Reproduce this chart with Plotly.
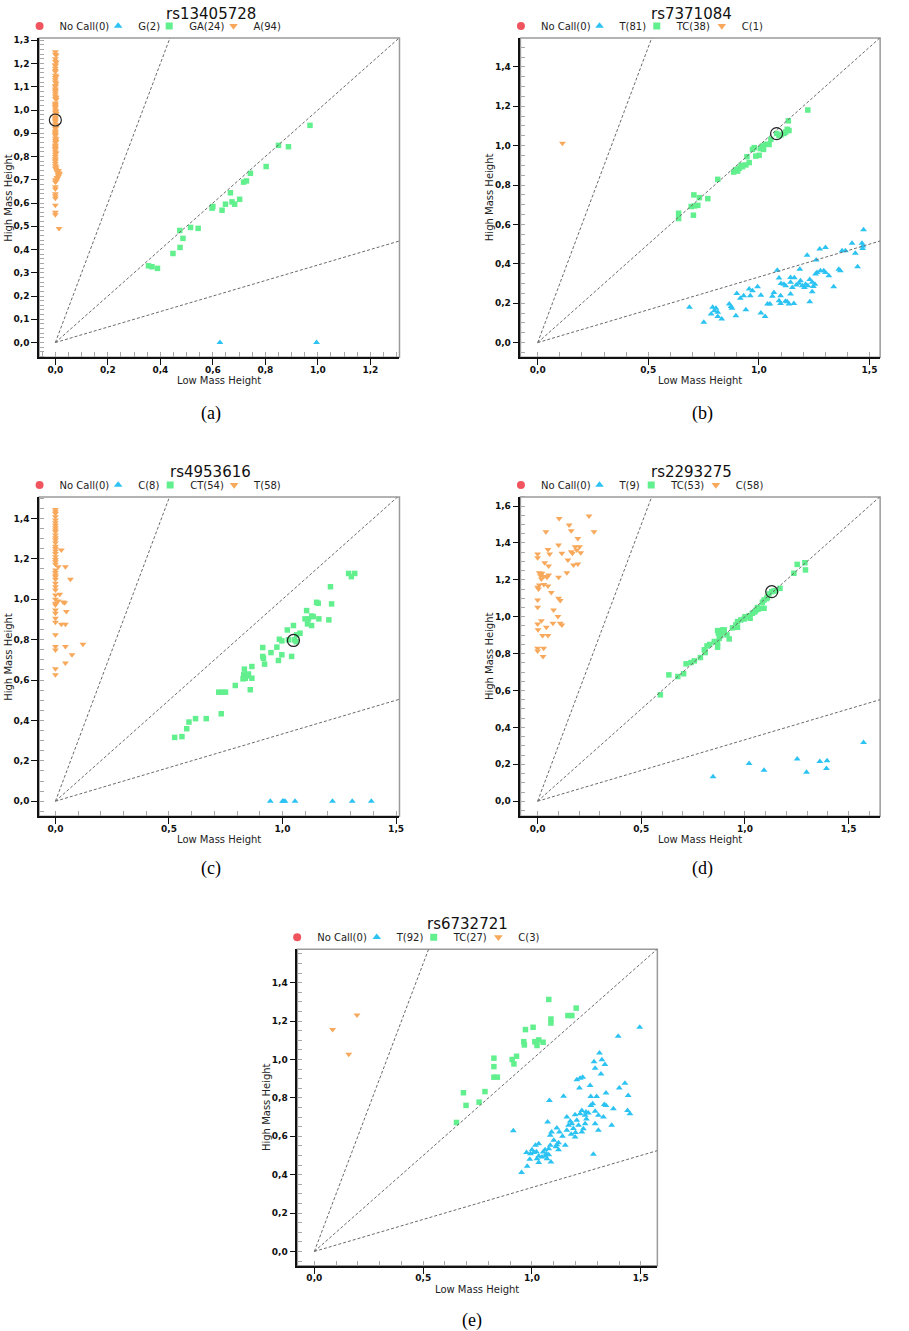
import plotly.graph_objects as go

W, H = 909, 1331

# ---------------- data ----------------
titles = ["rs13405728", "rs7371084", "rs4953616", "rs2293275", "rs6732721"]
captions = ["(a)", "(b)", "(c)", "(d)", "(e)"]
legend_names = [
    ["No Call(0)", "G(2)", "GA(24)", "A(94)"],
    ["No Call(0)", "T(81)", "TC(38)", "C(1)"],
    ["No Call(0)", "C(8)", "CT(54)", "T(58)"],
    ["No Call(0)", "T(9)", "TC(53)", "C(58)"],
    ["No Call(0)", "T(92)", "TC(27)", "C(3)"],
]
line_slopes = [3.0, 1.0, 1.0 / 3.0]

# panel (a)
a_blue_x = [0.627, 0.995]
a_blue_y = [0.0, 0.0]
a_green_x = [0.970, 0.850, 0.888, 0.803, 0.743, 0.728, 0.717, 0.667, 0.702, 0.673, 0.648, 0.683,
             0.597, 0.600, 0.635, 0.544, 0.515, 0.474, 0.486, 0.475, 0.448, 0.355, 0.368, 0.389]
a_green_y = [0.934, 0.848, 0.842, 0.757, 0.728, 0.695, 0.690, 0.644, 0.616, 0.605, 0.595, 0.595,
             0.578, 0.585, 0.569, 0.491, 0.495, 0.482, 0.448, 0.409, 0.383, 0.330, 0.326, 0.319]
a_orange_y = [1.25, 1.24, 1.22, 1.21, 1.19, 1.18, 1.17, 1.15, 1.14, 1.13, 1.12, 1.10, 1.09, 1.08, 1.07,
              1.06, 1.05, 1.03, 1.02, 1.01, 1.00, 0.99, 0.98, 0.97, 0.96, 0.95, 0.94, 0.93, 0.92, 0.91,
              0.90, 0.89, 0.88, 0.87, 0.86, 0.85, 0.84, 0.83, 0.82, 0.81, 0.80, 0.79, 0.78, 0.77, 0.76,
              0.75, 0.74, 0.73, 0.72, 0.71, 0.70, 0.69, 0.67, 0.66, 0.64, 0.63, 0.62, 0.59, 0.56, 0.55,
              0.49,
              1.235, 1.195, 1.145, 1.105, 1.045, 1.015, 0.985, 0.955, 0.925, 0.895, 0.865, 0.835, 0.815,
              0.785, 0.755, 0.725, 0.715, 0.705, 0.695, 0.735, 0.745, 0.845, 0.875, 0.905, 0.935, 0.965,
              0.995, 1.025, 1.055, 1.085, 1.115, 1.165, 1.205]
a_orange_x = [0.0, 0.0, 0.0, 0.0, 0.0, 0.0, 0.0, 0.0, 0.0, 0.0, 0.0, 0.0, 0.0, 0.0, 0.0,
              0.0, 0.0, 0.0, 0.0, 0.0, 0.0, 0.0, 0.0, 0.0, 0.0, 0.0, 0.0, 0.0, 0.0, 0.0,
              0.0, 0.0, 0.0, 0.0, 0.0, 0.0, 0.0, 0.0, 0.0, 0.0, 0.0, 0.0, 0.0, 0.0, 0.0,
              0.0, 0.012, 0.014, 0.010, 0.006, 0.0, 0.0, 0.0, 0.0, 0.0, 0.0, 0.0, 0.0, 0.0, 0.0,
              0.014,
              0.003, 0.0, 0.003, 0.0, 0.003, 0.0, 0.003, 0.0, 0.003, 0.0, 0.003, 0.0, 0.003,
              0.0, 0.003, 0.016, 0.012, 0.008, 0.004, 0.006, 0.003, 0.0, 0.003, 0.0, 0.003, 0.0,
              0.003, 0.0, 0.003, 0.0, 0.003, 0.0, 0.003]
a_sel_x = [0.0]
a_sel_y = [0.957]

# panel (b)
b_blue_x = [1.473, 1.421, 1.466, 1.469, 1.436, 1.376, 1.391, 1.446, 1.301, 1.275, 1.218, 1.259, 1.361, 1.368,
            1.185, 1.083, 1.278, 1.293, 1.263, 1.256, 1.301, 1.316, 1.091, 1.143, 1.188, 1.181, 1.113, 1.121,
            1.143, 1.151, 1.211, 1.221, 1.241, 1.253, 1.246, 1.169, 1.196, 1.206, 1.338, 0.994, 1.241, 1.143,
            0.956, 0.971, 0.961, 1.068, 1.061, 1.098, 1.091, 1.009, 0.931, 0.916, 1.230, 1.128, 1.136, 1.158,
            1.050, 1.039, 1.098, 0.866, 0.874, 0.878, 0.941, 0.791, 0.806, 0.686, 0.799, 0.814, 0.784, 1.009,
            1.028, 0.896, 0.814, 0.832, 0.751, 1.100, 1.230, 1.160, 0.900, 1.470, 1.120]
b_blue_y = [0.573, 0.505, 0.505, 0.478, 0.454, 0.466, 0.466, 0.385, 0.483, 0.475, 0.444, 0.419, 0.373, 0.365,
            0.373, 0.368, 0.365, 0.365, 0.356, 0.348, 0.356, 0.339, 0.328, 0.331, 0.314, 0.302, 0.297, 0.289,
            0.306, 0.280, 0.297, 0.289, 0.306, 0.297, 0.285, 0.292, 0.289, 0.280, 0.284, 0.284, 0.258, 0.247,
            0.272, 0.263, 0.238, 0.255, 0.235, 0.238, 0.213, 0.241, 0.238, 0.225, 0.208, 0.208, 0.196, 0.199,
            0.196, 0.196, 0.199, 0.196, 0.184, 0.174, 0.167, 0.179, 0.174, 0.179, 0.162, 0.154, 0.145, 0.150,
            0.133, 0.137, 0.133, 0.120, 0.103, 0.300, 0.320, 0.330, 0.250, 0.490, 0.210]
b_green_x = [1.221, 1.133, 1.128, 1.121, 1.113, 1.136, 1.080, 1.091, 1.054, 1.031, 1.016, 1.021, 1.006, 1.046,
             0.979, 0.971, 1.001, 0.986, 0.946, 0.941, 0.926, 0.911, 0.904, 0.886, 0.919, 0.956, 0.814, 0.769,
             0.731, 0.706, 0.724, 0.709, 0.694, 0.704, 0.637, 0.637, 0.896, 1.100]
b_green_y = [1.181, 1.126, 1.083, 1.069, 1.062, 1.077, 1.062, 1.051, 1.032, 1.007, 0.998, 0.981, 0.985, 1.006,
             0.990, 0.981, 0.951, 0.947, 0.944, 0.902, 0.893, 0.885, 0.871, 0.866, 0.900, 0.914, 0.829, 0.731,
             0.736, 0.750, 0.697, 0.694, 0.691, 0.647, 0.657, 0.630, 0.878, 1.055]
b_orange_x = [0.112]
b_orange_y = [1.012]
b_sel_x = [1.080]
b_sel_y = [1.061]

# panel (c)
c_blue_x = [0.946, 1.000, 1.004, 1.011, 1.055, 1.220, 1.307, 1.391]
c_blue_y = [0.0, 0.0, 0.0, 0.0, 0.0, 0.0, 0.0, 0.0]
c_green_x = [1.291, 1.318, 1.303, 1.211, 1.216, 1.150, 1.157, 1.106, 1.099, 1.114, 1.128, 1.135, 1.160, 1.204,
             1.110, 1.128, 1.021, 1.048, 1.077, 1.062, 0.986, 0.997, 1.026, 1.052, 0.913, 0.975, 0.949, 0.997,
             1.040, 0.913, 0.916, 0.982, 0.921, 0.865, 0.832, 0.829, 0.843, 0.836, 0.826, 0.865, 0.792, 0.858,
             0.719, 0.749, 0.730, 0.617, 0.664, 0.588, 0.578, 0.525, 0.557, 0.734, 0.850, 1.060]
c_green_y = [1.128, 1.128, 1.112, 1.062, 0.977, 0.985, 0.980, 0.944, 0.903, 0.903, 0.917, 0.914, 0.903, 0.898,
             0.878, 0.870, 0.848, 0.870, 0.832, 0.824, 0.802, 0.794, 0.799, 0.799, 0.761, 0.763, 0.736, 0.725,
             0.717, 0.717, 0.708, 0.697, 0.679, 0.667, 0.654, 0.626, 0.621, 0.609, 0.606, 0.609, 0.573, 0.552,
             0.540, 0.540, 0.433, 0.409, 0.409, 0.392, 0.359, 0.316, 0.320, 0.540, 0.630, 0.790]
c_orange_x = [0.0, 0.0, 0.0, 0.0, 0.0, 0.0, 0.0, 0.0, 0.0, 0.0, 0.0, 0.0, 0.0, 0.0, 0.0,
              0.0, 0.0, 0.0, 0.0, 0.0, 0.0, 0.0, 0.0, 0.0, 0.0, 0.0, 0.0, 0.0, 0.0, 0.0,
              0.0, 0.0, 0.0, 0.0, 0.0, 0.0, 0.0, 0.0, 0.0, 0.0, 0.0, 0.0, 0.0,
              0.026, 0.012, 0.044, 0.066, 0.019, 0.012, 0.034, 0.041, 0.048, 0.026, 0.044, 0.121, 0.044,
              0.073, 0.044]
c_orange_y = [1.445, 1.433, 1.425, 1.408, 1.392, 1.379, 1.367, 1.354, 1.343, 1.334, 1.318, 1.305, 1.293, 1.280,
              1.263, 1.252, 1.239, 1.227, 1.211, 1.197, 1.186, 1.174, 1.145, 1.132, 1.120, 1.112, 1.099, 1.079,
              1.062, 1.046, 1.021, 1.000, 0.980, 0.972, 0.947, 0.931, 0.906, 0.886, 0.824, 0.766, 0.749, 0.656,
              0.626,
              1.244, 1.161, 1.161, 1.099, 1.025, 0.992, 0.987, 0.983, 0.939, 0.876, 0.876, 0.777, 0.766,
              0.725, 0.684]
c_sel_x = [1.048]
c_sel_y = [0.796]

# panel (d)
d_blue_x = [1.572, 1.252, 1.361, 1.396, 1.393, 1.020, 1.092, 1.297, 0.846]
d_blue_y = [0.319, 0.229, 0.216, 0.220, 0.177, 0.204, 0.168, 0.157, 0.132]
d_green_x = [1.289, 1.252, 1.292, 1.236, 1.169, 1.148, 1.129, 1.108, 1.092, 1.084, 1.092, 1.076, 1.063, 1.052,
             1.036, 1.020, 1.025, 0.980, 0.964, 0.956, 0.964, 0.900, 0.888, 0.868, 0.872, 0.924, 0.884, 0.876,
             0.852, 0.868, 0.868, 0.817, 0.804, 0.808, 0.785, 0.756, 0.740, 0.716, 0.704, 0.676, 0.633, 0.592,
             0.996, 1.047, 1.105, 1.116, 0.913, 0.892, 1.000, 1.060, 0.940, 0.830, 1.140]
d_green_y = [1.293, 1.284, 1.254, 1.236, 1.154, 1.142, 1.136, 1.106, 1.091, 1.079, 1.046, 1.046, 1.041, 1.034,
             1.019, 1.006, 0.992, 0.983, 0.974, 0.956, 0.943, 0.929, 0.916, 0.925, 0.911, 0.880, 0.898, 0.884,
             0.866, 0.860, 0.835, 0.842, 0.821, 0.806, 0.779, 0.761, 0.752, 0.745, 0.691, 0.676, 0.685, 0.577,
             0.988, 1.026, 1.099, 1.124, 0.902, 0.929, 1.000, 1.050, 0.940, 0.850, 1.140]
d_orange_x = [0.248, 0.104, 0.152, 0.040, 0.162, 0.272, 0.194, 0.101, 0.050, 0.058, 0.000, 0.000, 0.181, 0.202,
              0.189, 0.117, 0.162, 0.168, 0.208, 0.146, 0.034, 0.053, 0.173, 0.194, 0.008, 0.021, 0.141, 0.053,
              0.029, 0.045, 0.018, 0.101, 0.008, 0.000, 0.050, 0.066, 0.101, 0.109, 0.000, 0.000, 0.077, 0.098,
              0.018, 0.000, 0.002, 0.109, 0.117, 0.074, 0.042, 0.024, 0.050, 0.000, 0.000, 0.029, 0.026, 0.014,
              0.030, 0.004]
d_orange_y = [1.546, 1.533, 1.497, 1.461, 1.466, 1.461, 1.425, 1.389, 1.365, 1.340, 1.340, 1.320, 1.380, 1.380,
              1.362, 1.344, 1.353, 1.344, 1.347, 1.308, 1.293, 1.275, 1.281, 1.286, 1.239, 1.236, 1.239, 1.227,
              1.218, 1.214, 1.205, 1.214, 1.172, 1.160, 1.167, 1.131, 1.100, 1.088, 1.091, 1.052, 1.037, 1.001,
              0.979, 0.961, 0.929, 0.965, 0.956, 0.965, 0.943, 0.898, 0.898, 0.830, 0.815, 0.830, 0.785, 1.222,
              1.175, 1.150]
d_sel_x = [1.129]
d_sel_y = [1.136]

# panel (e)
e_blue_x = [1.495, 1.396, 1.310, 1.321, 1.285, 1.335, 1.290, 1.317, 1.206, 1.221, 1.233, 1.427, 1.401, 1.218,
            1.267, 1.442, 1.340, 1.270, 1.297, 1.145, 1.080, 1.279, 1.332, 1.340, 1.374, 1.439, 1.450, 1.229,
            1.248, 1.259, 1.221, 1.290, 1.305, 1.328, 1.198, 1.244, 1.176, 1.183, 1.168, 1.206, 1.214, 1.244,
            1.236, 1.229, 1.072, 1.290, 1.366, 1.305, 1.114, 1.126, 1.090, 1.084, 1.160, 1.198, 0.914, 1.153,
            1.122, 1.114, 1.031, 1.016, 1.084, 1.077, 1.122, 1.000, 1.008, 0.993, 0.975, 1.051, 1.066, 1.061,
            1.046, 1.069, 1.077, 1.031, 1.023, 1.282, 0.990, 1.031, 1.087, 0.978, 0.952, 1.190, 1.250, 1.140,
            1.100, 1.200, 1.060, 1.160, 1.270, 1.020, 1.180, 1.110]
e_blue_y = [1.168, 1.121, 1.034, 0.999, 0.989, 0.974, 0.955, 0.925, 0.894, 0.903, 0.908, 0.877, 0.851, 0.851,
            0.865, 0.813, 0.825, 0.807, 0.807, 0.809, 0.787, 0.769, 0.766, 0.761, 0.743, 0.735, 0.717, 0.735,
            0.726, 0.721, 0.717, 0.731, 0.709, 0.700, 0.712, 0.709, 0.678, 0.665, 0.657, 0.683, 0.657, 0.665,
            0.639, 0.622, 0.674, 0.665, 0.657, 0.631, 0.643, 0.622, 0.622, 0.605, 0.631, 0.596, 0.629, 0.553,
            0.567, 0.556, 0.561, 0.553, 0.553, 0.535, 0.530, 0.530, 0.515, 0.509, 0.515, 0.518, 0.509, 0.497,
            0.492, 0.483, 0.504, 0.497, 0.483, 0.506, 0.480, 0.463, 0.466, 0.444, 0.411, 0.640, 0.690, 0.600,
            0.580, 0.620, 0.530, 0.700, 0.760, 0.520, 0.610, 0.545]
e_green_x = [1.077, 1.203, 1.165, 1.183, 1.087, 1.087, 1.005, 0.970, 0.962, 0.965, 1.013, 1.023, 1.020, 1.031,
             1.051, 0.929, 0.909, 0.917, 0.825, 0.825, 0.825, 0.841, 0.784, 0.685, 0.757, 0.697, 0.653]
e_green_y = [1.313, 1.268, 1.229, 1.229, 1.211, 1.190, 1.168, 1.156, 1.093, 1.076, 1.093, 1.073, 1.090, 1.102,
             1.090, 1.017, 1.000, 0.977, 1.007, 0.963, 0.908, 0.908, 0.833, 0.827, 0.778, 0.761, 0.672]
e_orange_x = [0.084, 0.196, 0.158]
e_orange_y = [1.156, 1.232, 1.028]
e_sel_x = []
e_sel_y = []

# axis ranges and ticks per panel
x_ranges = [[-0.062, 1.311], [-0.078, 1.548], [-0.072, 1.515], [-0.083, 1.652], [-0.078, 1.576]]
y_ranges = [[-0.063, 1.310], [-0.074, 1.547], [-0.074, 1.507], [-0.081, 1.650], [-0.075, 1.575]]
x_dticks = [0.2, 0.5, 0.5, 0.5, 0.5]
x_minor = [0.05, 0.1, 0.1, 0.1, 0.1]
y_dticks = [0.1, 0.2, 0.2, 0.2, 0.2]
y_minor = [0.02, 0.05, 0.05, 0.05, 0.05]

# ---------------- layout geometry (page pixels) ----------------
boxes = [  # left, right, top, bottom
    (39.3, 401.7, 35.0, 355.0),
    (523.3, 885.0, 35.0, 355.0),
    (39.3, 401.7, 495.0, 815.0),
    (523.3, 885.0, 495.0, 815.0),
    (299.0, 661.0, 948.3, 1265.7),
]
title_pos = [(211.7, 11), (695.7, 11), (211.7, 470), (695.7, 470), (470, 923.5)]
caption_pos = [(212, 411), (706, 411), (212, 867), (706, 867), (475, 1320)]
# start of each legend entry's text, relative to the plot box's left edge
legend_text_offsets = [
    [18.4, 97.4, 148.7, 213.4],
    [18.4, 97.4, 155.0, 220.4],
    [18.4, 97.4, 149.7, 214.0],
    [18.4, 97.4, 149.4, 214.4],
    [17.7, 97.7, 155.0, 220.0],
]

panels = [
    (a_blue_x, a_blue_y, a_green_x, a_green_y, a_orange_x, a_orange_y, a_sel_x, a_sel_y),
    (b_blue_x, b_blue_y, b_green_x, b_green_y, b_orange_x, b_orange_y, b_sel_x, b_sel_y),
    (c_blue_x, c_blue_y, c_green_x, c_green_y, c_orange_x, c_orange_y, c_sel_x, c_sel_y),
    (d_blue_x, d_blue_y, d_green_x, d_green_y, d_orange_x, d_orange_y, d_sel_x, d_sel_y),
    (e_blue_x, e_blue_y, e_green_x, e_green_y, e_orange_x, e_orange_y, e_sel_x, e_sel_y),
]

RED, BLUE, GREEN, ORANGE = "#F0555F", "#2CC3F3", "#62EF8E", "#F8A85A"
FONT = "DejaVu Sans"
# (symbol, data marker size, legend marker size, colour) per genotype group
groups = [
    ("circle", 6, 8, RED),
    ("triangle-up", 6, 7.5, BLUE),
    ("square", 5.5, 7, GREEN),
    ("triangle-down", 6, 7.5, ORANGE),
]


def px_x(v):
    return v / W


def px_y(v):
    return 1 - v / H


fig = go.Figure()
layout = dict(
    width=W, height=H, margin=dict(l=0, r=0, t=0, b=0),
    paper_bgcolor="white", plot_bgcolor="white",
    separators=",.", showlegend=True,
    font=dict(family=FONT, size=10, color="#222"),
)
annotations = []
shapes = []

for i, (bx, by, gx, gy, ox, oy, sx, sy) in enumerate(panels):
    k = i + 1
    xa = "x" if k == 1 else f"x{k}"
    ya = "y" if k == 1 else f"y{k}"
    names = legend_names[i]
    L, R, T, B = boxes[i]
    series = [([None], [None]), (bx, by), (gx, gy), (ox, oy)]
    for j in range(4):
        n = i * 4 + j + 1
        leg = "legend" if n == 1 else f"legend{n}"
        layout[leg] = dict(
            x=px_x(L + legend_text_offsets[i][j] + 2 - 40), y=px_y(T - 12), xanchor="left",
            yanchor="middle", orientation="h",
            font=dict(family=FONT, size=10, color="#222"), bgcolor="rgba(0,0,0,0)",
            itemwidth=30, tracegroupgap=0, borderwidth=0,
        )
        sym, msize, lsize, col = groups[j]
        grp = f"p{k}g{j}"
        # legend entry (slightly larger symbol than the data marks)
        fig.add_trace(go.Scatter(x=[None], y=[None], mode="markers", name=names[j], legend=leg,
                                 legendgroup=grp, showlegend=True,
                                 marker=dict(symbol=sym, size=lsize, color=col, line=dict(width=0)),
                                 xaxis=xa, yaxis=ya))
        xs, ys = series[j]
        if j > 0:
            fig.add_trace(go.Scatter(x=xs, y=ys, mode="markers", name=names[j], legendgroup=grp,
                                     showlegend=False,
                                     marker=dict(symbol=sym, size=msize, color=col, line=dict(width=0)),
                                     xaxis=xa, yaxis=ya, cliponaxis=False))
    xmax = x_ranges[i][1]
    for s in line_slopes:
        fig.add_trace(go.Scatter(x=[0, xmax], y=[0, s * xmax], mode="lines", showlegend=False,
                                 line=dict(color="#6a6a6a", width=1, dash="3px,2px"),
                                 hoverinfo="skip", xaxis=xa, yaxis=ya))
    if sx:
        fig.add_trace(go.Scatter(x=sx, y=sy, mode="markers", showlegend=False,
                                 marker=dict(symbol="circle-open", size=12, color="#222",
                                             line=dict(width=1.2, color="#222")),
                                 xaxis=xa, yaxis=ya))

    dom_x = [px_x(L), px_x(R)]
    dom_y = [px_y(B), px_y(T)]
    tickfont = dict(family=FONT, size=9, color="#111", weight="bold")
    layout["xaxis" if k == 1 else f"xaxis{k}"] = dict(
        domain=dom_x, anchor=ya, range=x_ranges[i], tick0=0, dtick=x_dticks[i], tickformat=".1f",
        showline=True, linecolor="#111", linewidth=1.5, ticks="outside", ticklen=6, tickwidth=1.3,
        tickcolor="#111", showgrid=False, zeroline=False, tickfont=tickfont, ticklabelstandoff=-3,
        minor=dict(dtick=x_minor[i], tick0=0, ticks="inside", ticklen=5, tickcolor="#a8a8a8",
                   tickwidth=1, showgrid=False),
    )
    layout["yaxis" if k == 1 else f"yaxis{k}"] = dict(
        domain=dom_y, anchor=xa, range=y_ranges[i], tick0=0, dtick=y_dticks[i], tickformat=".1f",
        showline=True, linecolor="#111", linewidth=1.5, ticks="outside", ticklen=6, tickwidth=1.3,
        tickcolor="#111", showgrid=False, zeroline=False, tickfont=tickfont,
        minor=dict(dtick=y_minor[i], tick0=0, ticks="inside", ticklen=5, tickcolor="#a8a8a8",
                   tickwidth=1, showgrid=False),
    )
    # overlay axes: inner half of the major ticks (ticks cross the axis line)
    layout[f"xaxis{k + 5}"] = dict(
        overlaying=xa, anchor=ya, range=x_ranges[i], tick0=0, dtick=x_dticks[i], ticks="inside",
        ticklen=6, tickwidth=1.3, tickcolor="#111", showticklabels=False, showline=False,
        showgrid=False, zeroline=False,
    )
    layout[f"yaxis{k + 5}"] = dict(
        overlaying=ya, anchor=xa, range=y_ranges[i], tick0=0, dtick=y_dticks[i], ticks="inside",
        ticklen=6, tickwidth=1.3, tickcolor="#111", showticklabels=False, showline=False,
        showgrid=False, zeroline=False,
    )
    # frame
    shapes.append(dict(type="rect", xref=f"{xa} domain", yref=f"{ya} domain", x0=0, x1=1, y0=0, y1=1,
                       line=dict(color="#9a9a9a", width=1.5), layer="below"))
    # titles, axis titles, captions
    tx, ty = title_pos[i]
    annotations.append(dict(text=titles[i], x=px_x(tx), y=px_y(ty), xref="paper", yref="paper",
                            showarrow=False, xanchor="center", yanchor="middle",
                            font=dict(family=FONT, size=15, color="#111")))
    annotations.append(dict(text="Low Mass Height", x=px_x((L + R) / 2), y=px_y(B + 23.5),
                            xref="paper", yref="paper", showarrow=False, xanchor="center",
                            yanchor="middle", font=dict(family=FONT, size=10, color="#222")))
    annotations.append(dict(text="High Mass Height", x=px_x(L - 31), y=px_y((T + B) / 2),
                            xref="paper", yref="paper", showarrow=False, xanchor="center",
                            yanchor="middle", textangle=-90,
                            font=dict(family=FONT, size=10, color="#222")))
    cx, cy = caption_pos[i]
    annotations.append(dict(text=captions[i], x=px_x(cx), y=px_y(cy), xref="paper", yref="paper",
                            showarrow=False, xanchor="center", yanchor="middle",
                            font=dict(family="Liberation Serif", size=18, color="#000")))

layout["annotations"] = annotations
layout["shapes"] = shapes
fig.update_layout(**layout)
# the page's default 8px body margin would push the fixed-size figure off the window
fig.write_html("out.html", config={"displayModeBar": False},
               post_script="document.body.style.margin='0px';")
